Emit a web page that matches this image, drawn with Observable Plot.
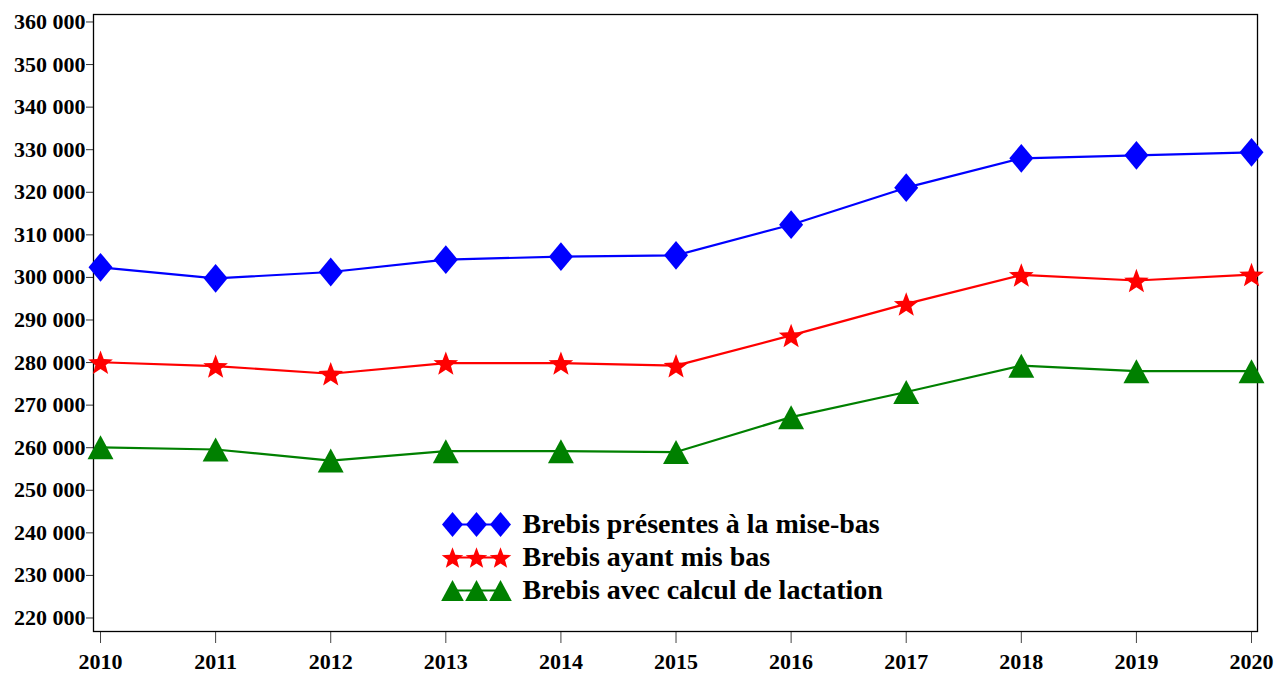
<!DOCTYPE html>
<html>
<head>
<meta charset="utf-8">
<script src="https://cdn.jsdelivr.net/npm/d3@7"></script>
<script src="https://cdn.jsdelivr.net/npm/@observablehq/plot@0.6"></script>
<style>
  html, body { margin: 0; padding: 0; background: #fff; }
  #wrap { position: relative; width: 1277px; height: 673px; font-family: "Liberation Serif", "Times New Roman", serif; }
  #legend { position: absolute; left: 430px; top: 500px; }
  svg { overflow: visible; }
</style>
</head>
<body>
<div id="wrap"><div id="chart"></div><div id="legend"></div></div>
<script>
// ---- Data ----
const years = [2010, 2011, 2012, 2013, 2014, 2015, 2016, 2017, 2018, 2019, 2020];
const presentes = [303200, 300600, 302100, 305000, 305700, 306000, 313200, 321900, 328800, 329500, 330200];
const ayantMisBas = [280900, 280000, 278200, 280700, 280700, 280100, 287200, 294600, 301400, 300100, 301500];
const lactation = [260900, 260400, 257800, 260000, 260000, 259800, 268000, 273900, 280100, 278800, 278800];
const seriesNames = ["Brebis présentes à la mise-bas", "Brebis ayant mis bas", "Brebis avec calcul de lactation"];
const seriesColors = ["#0000ff", "#ff0000", "#008000"];
const yTicks = [220000, 230000, 240000, 250000, 260000, 270000, 280000, 290000, 300000, 310000, 320000, 330000, 340000, 350000, 360000];

// ---- Custom symbols ----
const diamond = {draw(ctx, size) { const r = Math.sqrt(size / Math.PI);
  ctx.moveTo(0, -1.2 * r); ctx.lineTo(r, 0); ctx.lineTo(0, 1.2 * r); ctx.lineTo(-r, 0); ctx.closePath(); }};
const star = {draw(ctx, size) { const r = Math.sqrt(size / Math.PI) * 1.08, ri = r * 0.42;
  for (let i = 0; i < 10; i++) { const a = -Math.PI / 2 + i * Math.PI / 5, rr = i % 2 ? ri : r;
    const px = rr * Math.cos(a), py = rr * Math.sin(a) + r * 0.1; i ? ctx.lineTo(px, py) : ctx.moveTo(px, py); }
  ctx.closePath(); }};
const triangle = {draw(ctx, size) { const r = Math.sqrt(size / Math.PI);
  ctx.moveTo(0, -r); ctx.lineTo(1.08 * r, r); ctx.lineTo(-1.08 * r, r); ctx.closePath(); }};
const symbols = [diamond, star, triangle];

const seriesValues = [presentes, ayantMisBas, lactation];
const rows = seriesValues.map((vals, i) => years.map((y, k) => ({year: y, value: vals[k], series: seriesNames[i]})));

const fmt = v => d3.format(",")(v).replace(/,/g, " ");

const marks = [
  Plot.axisY({ticks: yTicks, tickFormat: fmt, tickSize: 7, tickPadding: 1, dy: -3.5, stroke: "#333", fill: "#000",
    fontSize: 22, fontWeight: "bold", label: null}),
  Plot.axisX({ticks: years, tickFormat: d => String(d), tickSize: 12, tickPadding: 10, stroke: "#444", fill: "#000",
    fontSize: 22, fontWeight: "bold", label: null}),
  Plot.frame({stroke: "#000", strokeWidth: 1.3})
];
rows.forEach((data, i) => {
  marks.push(Plot.line(data, {x: "year", y: "value", stroke: seriesColors[i], strokeWidth: 2.2}));
});
rows.forEach((data, i) => {
  marks.push(Plot.dot(data, {x: "year", y: "value", symbol: symbols[i], r: 12, fill: seriesColors[i], stroke: "none"}));
});

const chart = Plot.plot({
  width: 1277, height: 673,
  marginLeft: 93, marginRight: 20, marginTop: 14, marginBottom: 42,
  style: {fontFamily: "'Liberation Serif', 'Times New Roman', serif", background: "transparent", overflow: "visible"},
  x: {type: "linear", domain: [2009.939, 2020.052]},
  y: {domain: [217650, 362580]},
  marks
});
document.getElementById("chart").appendChild(chart);

// ---- Legend ----
const legendRows = seriesNames.flatMap((s, i) => [0, 1, 2].map(k => ({k, series: s, idx: i})));
const legendMarks = [];
seriesNames.forEach((s, i) => {
  const d = legendRows.filter(r => r.idx === i);
  legendMarks.push(Plot.line(d, {x: "k", y: "series", stroke: seriesColors[i], strokeWidth: 2.2}));
  legendMarks.push(Plot.dot(d, {x: "k", y: "series", symbol: symbols[i], r: 10.5, fill: seriesColors[i], stroke: "none"}));
});
legendMarks.push(Plot.text(seriesNames, {x: () => 2, y: d => d, text: d => d, dx: 22, textAnchor: "start",
  fontSize: 28, fontWeight: "bold", fill: "#000"}));
const legend = Plot.plot({
  width: 470, height: 110, margin: 0,
  style: {fontFamily: "'Liberation Serif', 'Times New Roman', serif", background: "transparent", overflow: "visible"},
  x: {type: "linear", domain: [0, 2], range: [22, 70], axis: null},
  y: {type: "point", domain: seriesNames, range: [24, 90], padding: 0, axis: null},
  marks: legendMarks
});
document.getElementById("legend").appendChild(legend);
</script>
</body>
</html>
